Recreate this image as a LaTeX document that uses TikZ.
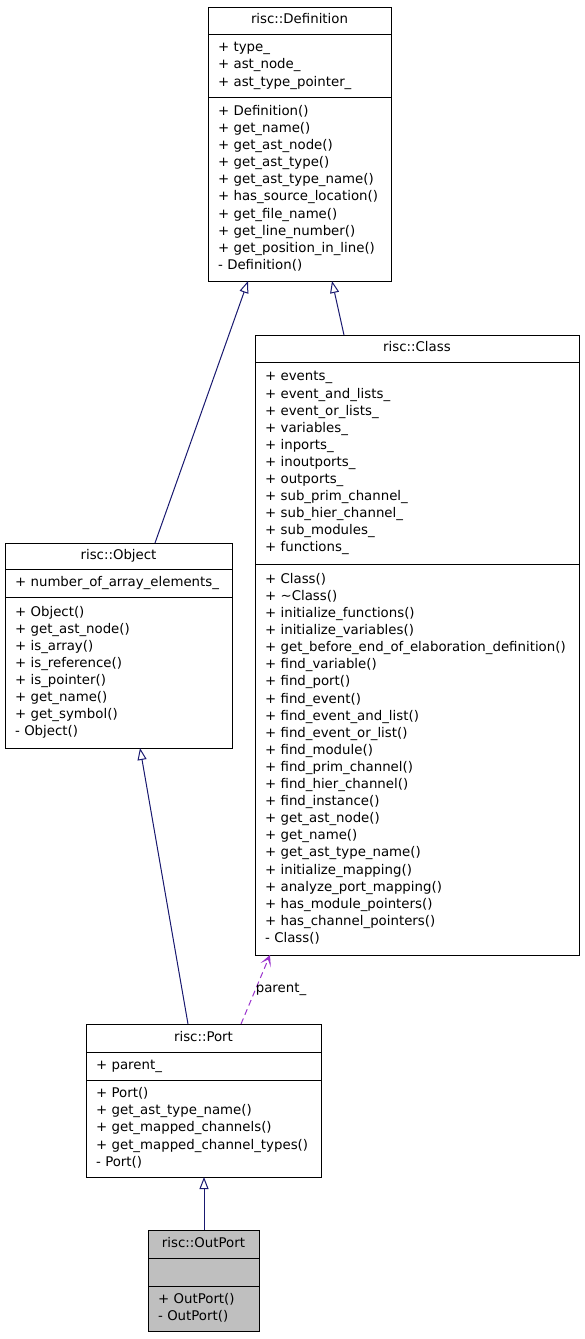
\documentclass[tikz,border=0pt]{standalone}
\usepackage{fontspec}
\setmainfont{DejaVu Sans}
\usetikzlibrary{arrows.meta,calc}
\definecolor{edgeblue}{HTML}{191970}
\definecolor{edgepurple}{HTML}{9A32CD}
\definecolor{leafgray}{HTML}{BFBFBF}
\newcommand{\Ls}{\strut}
\tikzset{
  umlfont/.style={font=\fontsize{13.33}{17.1}\selectfont},
  comp/.style={draw=black, line width=1pt, outer sep=0pt, inner xsep=10pt, inner ysep=0pt, anchor=north west, align=left, umlfont},
  ttl/.style={comp, align=center},
  inh/.style={draw=edgeblue, line width=1pt, -{Triangle[open,length=12pt,width=9pt]}},
  usage/.style={draw=edgepurple, line width=1pt, dash pattern=on 6pt off 4pt, -{Stealth[length=11pt,width=11pt,inset=6pt]}},
}
\begin{document}
\begin{tikzpicture}[x=1pt,y=-1pt]
\useasboundingbox (0,0) rectangle (584,1339);
\fill[white] (0,0) rectangle (584,1339);

% risc::Definition
\node[ttl, text width=163pt, minimum height=27pt] (defT) at (208,7) {\Ls risc::Definition};
\node[comp, text width=163pt, minimum height=63pt] (defA) at (defT.south west) {\Ls + type\_\\\Ls + ast\_node\_\\\Ls + ast\_type\_pointer\_};
\node[comp, text width=163pt, minimum height=184pt] (defM) at (defA.south west) {\Ls + Definition()\\\Ls + get\_name()\\\Ls + get\_ast\_node()\\\Ls + get\_ast\_type()\\\Ls + get\_ast\_type\_name()\\\Ls + has\_source\_location()\\\Ls + get\_file\_name()\\\Ls + get\_line\_number()\\\Ls + get\_position\_in\_line()\\\Ls - Definition()};

% risc::Class
\node[ttl, text width=304pt, minimum height=27pt] (clsT) at (255,335) {\Ls risc::Class};
\node[comp, text width=304pt, minimum height=202pt] (clsA) at (clsT.south west) {\Ls + events\_\\\Ls + event\_and\_lists\_\\\Ls + event\_or\_lists\_\\\Ls + variables\_\\\Ls + inports\_\\\Ls + inoutports\_\\\Ls + outports\_\\\Ls + sub\_prim\_channel\_\\\Ls + sub\_hier\_channel\_\\\Ls + sub\_modules\_\\\Ls + functions\_};
\node[comp, text width=304pt, minimum height=391pt] (clsM) at (clsA.south west) {\Ls + Class()\\\Ls + \textasciitilde Class()\\\Ls + initialize\_functions()\\\Ls + initialize\_variables()\\\Ls + get\_before\_end\_of\_elaboration\_definition()\\\Ls + find\_variable()\\\Ls + find\_port()\\\Ls + find\_event()\\\Ls + find\_event\_and\_list()\\\Ls + find\_event\_or\_list()\\\Ls + find\_module()\\\Ls + find\_prim\_channel()\\\Ls + find\_hier\_channel()\\\Ls + find\_instance()\\\Ls + get\_ast\_node()\\\Ls + get\_name()\\\Ls + get\_ast\_type\_name()\\\Ls + initialize\_mapping()\\\Ls + analyze\_port\_mapping()\\\Ls + has\_module\_pointers()\\\Ls + has\_channel\_pointers()\\\Ls - Class()};

% risc::Object
\node[ttl, text width=207pt, minimum height=26pt] (objT) at (5,543) {\Ls risc::Object};
\node[comp, text width=207pt, minimum height=28pt] (objA) at (objT.south west) {\Ls + number\_of\_array\_elements\_};
\node[comp, text width=207pt, minimum height=151pt] (objM) at (objA.south west) {\Ls + Object()\\\Ls + get\_ast\_node()\\\Ls + is\_array()\\\Ls + is\_reference()\\\Ls + is\_pointer()\\\Ls + get\_name()\\\Ls + get\_symbol()\\\Ls - Object()};

% risc::Port
\node[ttl, text width=215pt, minimum height=28pt] (prtT) at (86,1024) {\Ls risc::Port};
\node[comp, text width=215pt, minimum height=28pt] (prtA) at (prtT.south west) {\Ls + parent\_};
\node[comp, text width=215pt, minimum height=97pt] (prtM) at (prtA.south west) {\Ls + Port()\\\Ls + get\_ast\_type\_name()\\\Ls + get\_mapped\_channels()\\\Ls + get\_mapped\_channel\_types()\\\Ls - Port()};

% risc::OutPort
\node[ttl, fill=leafgray, text width=91pt, minimum height=28pt] (outT) at (148,1230) {\Ls risc::OutPort};
\node[comp, fill=leafgray, text width=91pt, minimum height=28pt] (outA) at (outT.south west) {};
\node[comp, fill=leafgray, text width=91pt, minimum height=45pt] (outM) at (outA.south west) {\Ls + OutPort()\\\Ls - OutPort()};

% connectors
\draw[inh] ($(objT.north west)+(150,0)$) -- ($(defM.south west)+(40,0)$);
\draw[inh] ($(clsT.north west)+(89,0)$) -- ($(defM.south west)+(124,0)$);
\draw[inh] ($(prtT.north west)+(102,0)$) -- ($(objM.south west)+(135,0)$);
\draw[usage] ($(prtT.north west)+(155,0)$) -- ($(clsM.south west)+(15,0)$);
\node[umlfont, inner sep=0pt] (lblParent) at (281,989) {parent\_};
\draw[inh] ($(outT.north west)+(56,0)$) -- ($(prtM.south west)+(118,0)$);
\end{tikzpicture}
\end{document}
